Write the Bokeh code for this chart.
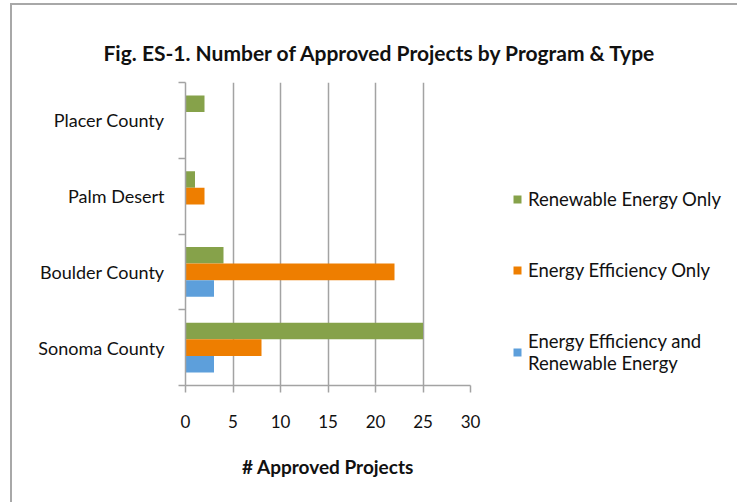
import numpy as np
from bokeh.plotting import figure
from bokeh.models import Range1d, FixedTicker, Legend, LegendItem, ColumnDataSource, Title
from bokeh.transform import dodge
from bokeh.embed import file_html
from bokeh.resources import INLINE

# ---- data ----
programs = ["Sonoma County", "Boulder County", "Palm Desert", "Placer County"]  # bottom -> top
renewable_only = [25, 4, 1, 2]
efficiency_only = [8, 22, 2, 0]
efficiency_and_renewable = [3, 3, 0, 0]
series_names = ["Renewable Energy Only", "Energy Efficiency Only",
                "Energy Efficiency and\nRenewable Energy"]
series_colors = ["#86A24A", "#EE7E00", "#5D9FDB"]
x_ticks = [0, 5, 10, 15, 20, 25, 30]
title_text = "Fig. ES-1. Number of Approved Projects by Program & Type"
x_title = "# Approved Projects"

FONT = "Lato"
GRAY = "#A3A3A3"
TXT = "#111111"

p = figure(frame_width=285, frame_height=303,
           min_border_left=173, min_border_right=265,
           min_border_top=77, min_border_bottom=117,
           x_range=Range1d(0, 30), y_range=Range1d(0, len(programs)),
           output_backend="svg", toolbar_location=None,
           styles={"margin-top": "3px", "margin-left": "10px",
                   "border-left": "2px solid #A8A8A8",
                   "border-top": "2px solid #A8A8A8"})
p.outline_line_color = None
p.background_fill_color = "white"
p.border_fill_color = "white"

ypos = np.arange(len(programs)) + 0.5
series = [renewable_only, efficiency_only, efficiency_and_renewable]
offsets = [0.22, 0.0, -0.22]
renderers = []
for vals, color, off in zip(series, series_colors, offsets):
    src = ColumnDataSource(dict(y=ypos, right=vals))
    r = p.hbar(y=dodge("y", off, range=p.y_range), left=0, right="right", height=0.22,
               fill_color=color, line_color=None, source=src)
    renderers.append(r)

# grid
p.ygrid.grid_line_color = None
p.xgrid.ticker = FixedTicker(ticks=x_ticks)
p.xgrid.grid_line_color = GRAY
p.xgrid.grid_line_width = 1.5

# x axis
xa = p.xaxis[0]
xa.ticker = FixedTicker(ticks=x_ticks)
xa.axis_line_color = GRAY
xa.axis_line_width = 1.5
xa.major_tick_line_color = GRAY
xa.major_tick_line_width = 1.5
xa.major_tick_in = 0
xa.major_tick_out = 7
xa.minor_tick_line_color = None
xa.major_label_text_font = FONT
xa.major_label_text_font_size = "17px"
xa.major_label_text_color = TXT
xa.major_label_standoff = 22
xa.axis_label = x_title
xa.axis_label_text_font = FONT
xa.axis_label_text_font_style = "bold"
xa.axis_label_text_font_size = "19px"
xa.axis_label_text_color = TXT
xa.axis_label_standoff = 24

# y axis
ya = p.yaxis[0]
ya.ticker = FixedTicker(ticks=list(ypos), minor_ticks=list(range(len(programs) + 1)))
ya.major_label_overrides = {float(y): name for y, name in zip(ypos, programs)}
ya.axis_line_color = GRAY
ya.axis_line_width = 1.5
ya.major_tick_line_color = None
ya.major_tick_in = 0
ya.major_tick_out = 0
ya.minor_tick_line_color = GRAY
ya.minor_tick_line_width = 1.5
ya.minor_tick_in = 0
ya.minor_tick_out = 7
ya.major_label_text_font = FONT
ya.major_label_text_font_size = "18px"
ya.major_label_text_color = TXT
ya.major_label_standoff = 14

# legend (right panel)
legend = Legend(items=[LegendItem(label=n, renderers=[r]) for n, r in zip(series_names, renderers)],
                location=(42, 11), orientation="vertical")
legend.border_line_color = None
legend.background_fill_alpha = 0
legend.label_text_font = FONT
legend.label_text_font_size = "18.5px"
legend.label_text_color = TXT
legend.label_text_line_height = 1.5
legend.glyph_width = 10
legend.glyph_height = 10
legend.label_height = 22
legend.label_standoff = 6
legend.spacing = 49
legend.padding = 0
legend.margin = 0
p.add_layout(legend, "right")

# title
title = Title(text=title_text, align="left", offset=-82, standoff=34,
              vertical_align="middle",
              text_font=FONT, text_font_style="bold", text_font_size="21px",
              text_color=TXT)
p.add_layout(title, "above")

open("out.html", "w").write(file_html(p, INLINE))
